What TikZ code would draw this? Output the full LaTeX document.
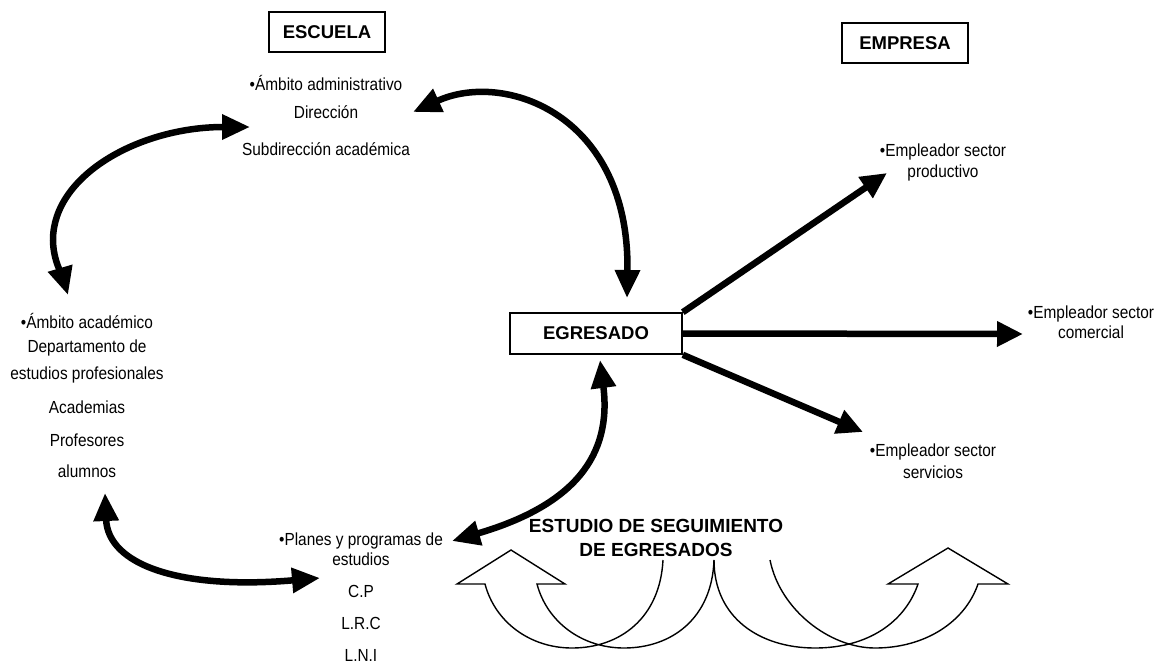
\documentclass[tikz,border=0pt]{standalone}
\usepackage{fontspec}
\setmainfont{Liberation Sans}[FakeStretch=0.88]
\newfontfamily\hdfont{Liberation Sans}
\usetikzlibrary{arrows.meta}
\begin{document}
\begin{tikzpicture}[x=1pt,y=-1pt,
  txt/.style={font=\fontsize{17.5}{20}\selectfont, inner sep=0pt, anchor=base},
  hd/.style={font=\hdfont\bfseries\fontsize{18.5}{20}\selectfont},
  hbox/.style={draw, line width=1.6pt, hd, inner sep=0pt},
  title/.style={inner sep=0pt, anchor=base, font=\hdfont\bfseries\fontsize{19}{20}\selectfont},
  sarrow/.style={line width=6.5pt, -{Triangle[length=26pt,width=24pt]}},
  dbl/.style={line width=6.5pt, {Triangle[length=28pt,width=24pt]}-{Triangle[length=28pt,width=24pt]}},
  band/.style={line width=1.4pt, line join=miter}]
\useasboundingbox (0,0) rectangle (1164,665);

% header boxes
\node[hbox, minimum width=116pt, minimum height=40pt] (escuela) at (327,32) {ESCUELA};
\node[hbox, minimum width=126pt, minimum height=40pt] (empresa) at (905,43) {EMPRESA};
\node[hbox, minimum width=172pt, minimum height=41pt] (egresado) at (596,333.5) {EGRESADO};

% administrative block
\node[txt] (adm1) at (326,90) {•Ámbito administrativo};
\node[txt] (adm2) at (326,118) {Dirección};
\node[txt] (adm3) at (326,155) {Subdirección académica};

% academic block
\node[txt] (acad1) at (87,328) {•Ámbito académico};
\node[txt] (acad2) at (87,352) {Departamento de};
\node[txt] (acad3) at (87,379) {estudios profesionales};
\node[txt] (acad4) at (87,413) {Academias};
\node[txt] (acad5) at (87,446) {Profesores};
\node[txt] (acad6) at (87,477) {alumnos};

% plans block
\node[txt] (pl1) at (361,545) {•Planes y programas de};
\node[txt] (pl2) at (361,565) {estudios};
\node[txt] (pl3) at (361,597) {C.P};
\node[txt] (pl4) at (361,629) {L.R.C};
\node[txt] (pl5) at (361,661) {L.N.I};

% employers
\node[txt] (ep1) at (943,156) {•Empleador sector};
\node[txt] (ep2) at (943,177) {productivo};
\node[txt] (ec1) at (1091,318) {•Empleador sector};
\node[txt] (ec2) at (1091,338) {comercial};
\node[txt] (es1) at (933,456) {•Empleador sector};
\node[txt] (es2) at (933,478) {servicios};

% study title
\node[title] (est1) at (656,532) {ESTUDIO DE SEGUIMIENTO};
\node[title] (est2) at (656,556) {DE EGRESADOS};

% arrow end points
\coordinate (c1a) at (413,112);
\coordinate (c1b) at (627,298);
\coordinate (c2a) at (250,127);
\coordinate (c2b) at (68,295);
\coordinate (c3a) at (105,493);
\coordinate (c3b) at (320,578);
\coordinate (c4a) at (600,360);
\coordinate (c4b) at (452,541);
\coordinate (t1) at (887,173);
\coordinate (t2) at (1023,334);
\coordinate (t3) at (863,432);

% curved double arrows
\draw[dbl] (c1a) .. controls (505,70) and (630,115) .. (c1b);
\draw[dbl] (c2a) .. controls (140,127) and (53,175) .. (53,240) .. controls (53,260) and (63,278) .. (c2b);
\draw[dbl] (c3a) .. controls (108,565) and (180,590) .. (c3b);
\draw[dbl] (c4a) .. controls (612,455) and (575,505) .. (c4b);

% straight arrows
\draw[sarrow] (egresado.north east) -- (t1);
\draw[sarrow] (egresado.east) -- (t2);
\draw[sarrow] (egresado.south east) -- (t3);

% curved block arrows (bottom)
\draw[band] (663,560) .. controls (660,618) and (620,648) .. (572,648)
  .. controls (530,648) and (495,622) .. (485,584)
  -- (457,584) -- (511,550) -- (565,584) -- (537,584)
  .. controls (547,622) and (582,648) .. (624,648)
  .. controls (672,648) and (712,618) .. (714,560);
\draw[band] (714,560) .. controls (714,618) and (760,648) .. (815,648)
  .. controls (868,648) and (905,622) .. (918,584)
  -- (888,584) -- (948,548) -- (1008,584) -- (978,584)
  .. controls (965,622) and (925,648) .. (875,648)
  .. controls (830,648) and (780,610) .. (770,560);
\end{tikzpicture}
\end{document}
